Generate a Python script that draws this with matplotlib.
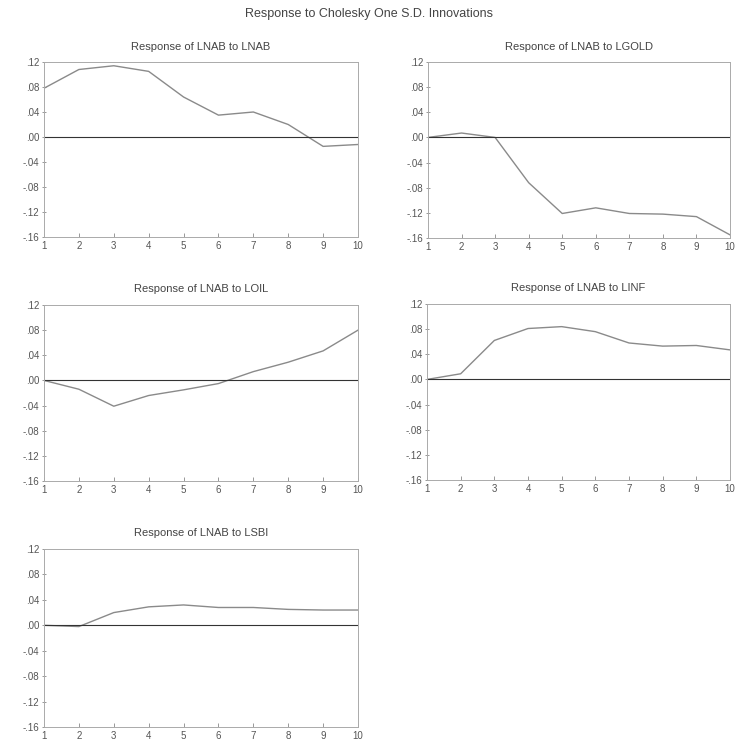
import matplotlib
matplotlib.use("Agg")
import matplotlib.pyplot as plt

periods = [1, 2, 3, 4, 5, 6, 7, 8, 9, 10]

# impulse responses of LNAB
resp_lnab = [0.078, 0.108, 0.114, 0.105, 0.064, 0.035, 0.040, 0.020, -0.015, -0.012]
resp_lgold = [0.0, 0.007, 0.0, -0.072, -0.121, -0.112, -0.121, -0.122, -0.126, -0.155]
resp_loil = [0.0, -0.014, -0.041, -0.024, -0.015, -0.005, 0.014, 0.029, 0.047, 0.080]
resp_linf = [0.0, 0.009, 0.062, 0.081, 0.084, 0.076, 0.058, 0.053, 0.054, 0.047]
resp_lsbi = [0.0, -0.002, 0.020, 0.029, 0.032, 0.028, 0.028, 0.025, 0.024, 0.024]

titles = ["Response of LNAB to LNAB", "Responce of LNAB to LGOLD",
          "Response of LNAB to LOIL", "Response of LNAB to LINF",
          "Response of LNAB to LSBI"]
series = [resp_lnab, resp_lgold, resp_loil, resp_linf, resp_lsbi]

yticks = [0.12, 0.08, 0.04, 0.0, -0.04, -0.08, -0.12, -0.16]
ytick_labels = [".12", ".08", ".04", ".00", "-.04", "-.08", "-.12", "-.16"]

W, H = 738, 742
# panel boxes in pixels: left, top, right, bottom
boxes = [(44, 62, 358, 237), (428, 62, 730, 238),
         (44, 305, 358, 481), (427, 304, 730, 480),
         (44, 549, 358, 727)]

txt = "#555555"
fig = plt.figure(figsize=(W / 100, H / 100), dpi=100)
fig.patch.set_facecolor("white")
plt.rcParams["font.family"] = ["Liberation Sans", "DejaVu Sans"]

fig.text(369 / W, 1 - 14 / H, "Response to Cholesky One S.D. Innovations",
         ha="center", va="center", fontsize=9, color="#444444")

for (l, t, r, b), vals, title in zip(boxes, series, titles):
    ax = fig.add_axes([l / W, 1 - b / H, (r - l) / W, (b - t) / H])
    ax.plot(periods, vals, color="#8a8a8a", lw=1.0)
    ax.axhline(0, color="#333333", lw=0.8)
    ax.set_xlim(1, 10)
    ax.set_ylim(-0.16, 0.12)
    ax.set_xticks(periods)
    ax.set_yticks(yticks)
    ax.set_yticklabels(ytick_labels)
    ax.tick_params(axis="both", labelsize=7, colors="#888888", labelcolor=txt,
                   length=3, width=0.6)
    ax.tick_params(axis="x", direction="in", pad=3)
    ax.tick_params(axis="y", direction="inout", pad=2)
    for s in ax.spines.values():
        s.set_color("#aaaaaa")
        s.set_linewidth(0.7)
    ax.set_title(title, fontsize=8, color="#444444", pad=9)

fig.savefig("out.png", dpi=100, facecolor="white")
